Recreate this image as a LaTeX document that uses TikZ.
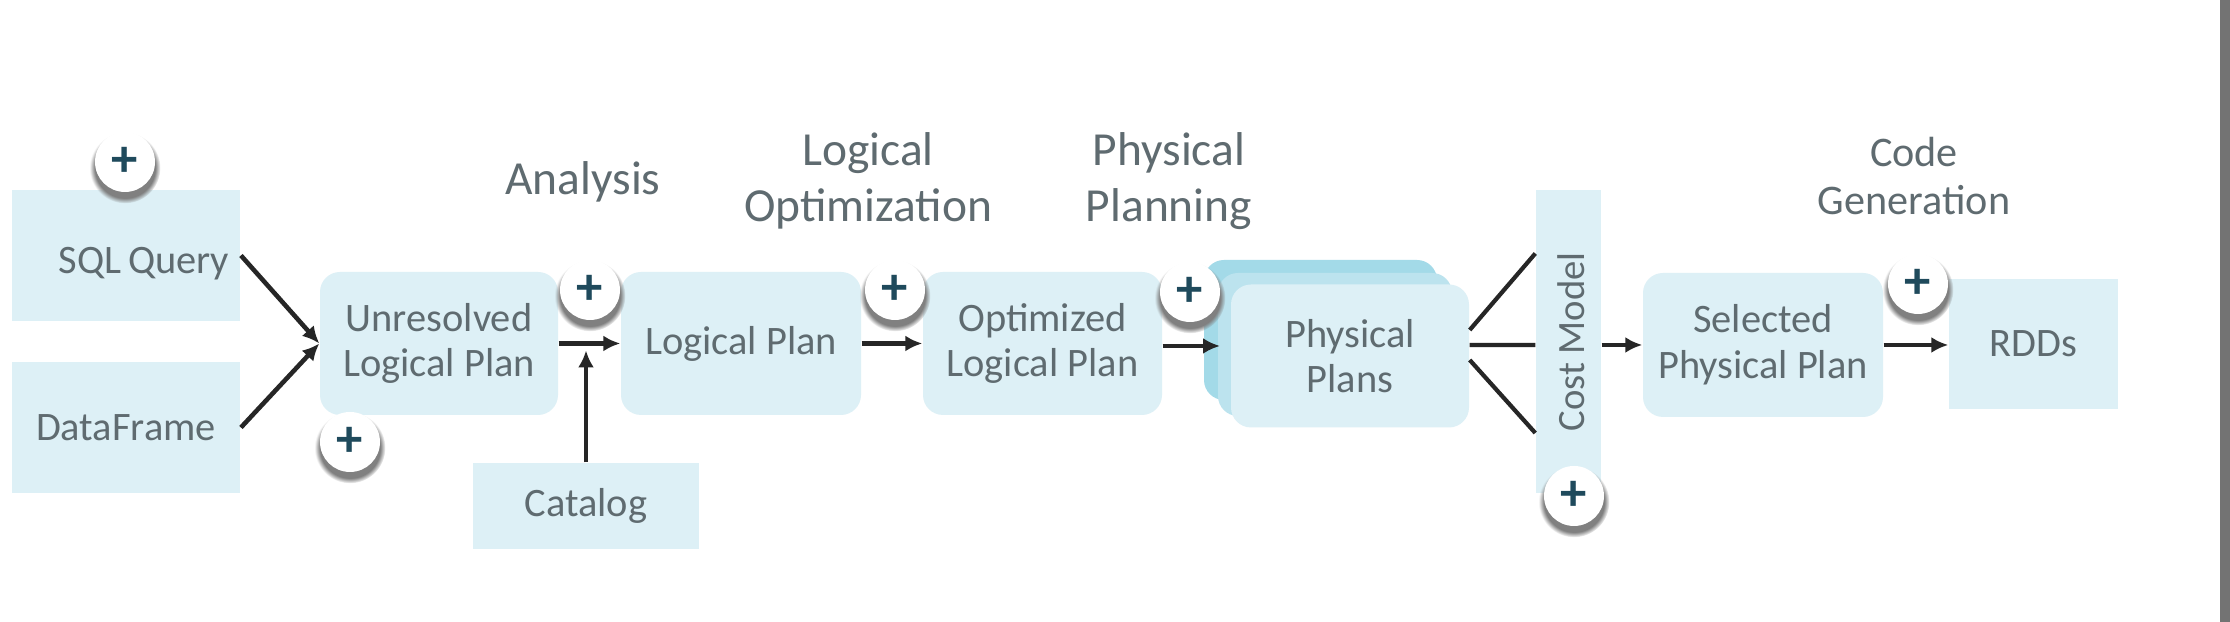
\documentclass[tikz,border=0pt]{standalone}
\usepackage{fontspec}
\setmainfont{Carlito}
\usetikzlibrary{arrows.meta, calc, shadows}
\definecolor{planfill}{HTML}{DDF0F6}
\definecolor{planmid}{HTML}{BCE3EE}
\definecolor{planback}{HTML}{A3DAE8}
\definecolor{plantext}{HTML}{5F6B70}
\definecolor{plusink}{HTML}{1F4A5C}
\definecolor{flowink}{HTML}{262626}
\tikzset{
  plainbox/.style = {fill = planfill, text = plantext, inner sep = 0pt, align = center,
    font = \fontsize{11.5pt}{13pt}\selectfont,
    execute at begin node = {\vspace*{0.12cm}}},
  planbox/.style = {plainbox, rounded corners = 0.2cm},
  phase/.style = {text = plantext, inner sep = 0pt, align = center},
  flow/.style = {draw = flowink, line width = 1.3pt, -{Latex[length = 0.17cm, width = 0.16cm]}},
  branch/.style = {draw = flowink, line width = 1.2pt},
  plus/.style = {circle, fill = white, inner sep = 0pt, minimum size = 0.6cm, text = plusink,
    font = \fontsize{15pt}{15pt}\selectfont\bfseries,
    circular drop shadow = {shadow xshift = 0pt, shadow yshift = -0.05cm, shadow scale = 1.18}}
}
\begin{document}
\begin{tikzpicture}
    \useasboundingbox (0,0) rectangle (22.30,6.22);
    \fill[white] (0,0) rectangle (22.30,6.22);
    \fill[black!55] (22.20,0) rectangle (22.30,6.22);

    % source boxes
    \node[plainbox, minimum width = 2.285cm, minimum height = 1.31cm] (sql) at (1.26,3.665){};
    \node[text = plantext, inner sep = 0pt, font = \fontsize{11.5pt}{13pt}\selectfont] (sqltext) at (1.44,3.58){SQL\,Query};
    \node[plainbox, minimum width = 2.285cm, minimum height = 1.31cm] (frame) at (1.26,1.945){DataFrame};
    \node[plainbox, minimum width = 2.26cm, minimum height = 0.86cm] (catalog) at (5.86,1.16){Catalog};

    % plans
    \node[planbox, minimum width = 2.38cm, minimum height = 1.43cm] (unres) at (4.39,2.785){Unresolved\\Logical Plan};
    \node[planbox, minimum width = 2.40cm, minimum height = 1.43cm] (logical) at (7.41,2.785){Logical Plan};
    \node[planbox, minimum width = 2.39cm, minimum height = 1.43cm] (opt) at (10.425,2.785){Optimized\\Logical Plan};
    \node[planbox, fill = planback, minimum width = 2.33cm, minimum height = 1.40cm] (back) at (13.205,2.92){};
    \node[planbox, fill = planmid, minimum width = 2.34cm, minimum height = 1.43cm] (mid) at (13.35,2.775){};
    \node[planbox, minimum width = 2.38cm, minimum height = 1.43cm,
      execute at begin node = {\vspace*{0.06cm}}] (phys) at (13.50,2.66){Physical\\Plans};
    \node[plainbox, minimum width = 0.65cm, minimum height = 3.03cm] (cost) at (15.685,2.805){};
    \node[text = plantext, inner sep = 0pt, rotate = 90, font = \fontsize{11pt}{13pt}\selectfont] (costtext) at (15.71,2.80){Cost Model};
    \node[planbox, minimum width = 2.40cm, minimum height = 1.44cm] (sel) at (17.63,2.77){Selected\\Physical Plan};
    \node[plainbox, minimum width = 1.69cm, minimum height = 1.30cm] (rdds) at (20.335,2.78){RDDs};

    % phase names
    \node[phase, font = \fontsize{13.5pt}{15pt}\selectfont] (analysis) at (5.83,4.40){Analysis};
    \node[phase, font = \fontsize{13.5pt}{16pt}\selectfont] (logopt) at (8.68,4.41){Logical\\Optimization};
    \node[phase, font = \fontsize{13.5pt}{16pt}\selectfont] (physplan) at (11.69,4.41){Physical\\Planning};
    \node[phase, font = \fontsize{12pt}{13.5pt}\selectfont] (codegen) at (19.14,4.46){Code\\Generation};

    % connectors
    \coordinate (planin) at (12.20,2.76);
    \draw[flow] (sql.east) -- (unres.west);
    \draw[flow] (frame.east) -- (unres.west);
    \draw[flow] (unres.east) -- (logical.west);
    \draw[flow] (catalog.north) -- ($(catalog.north |- unres.east) + (0,-0.07)$);
    \draw[flow] (logical.east) -- (opt.west);
    \draw[flow] (opt.east |- planin) -- (planin);
    \draw[branch] ($(phys.east) + (0,0.26)$) -- ($(cost.west) + (0,0.88)$);
    \draw[branch] ($(phys.east) + (0,0.11)$) -- ($(cost.west) + (0,-0.035)$);
    \draw[branch] ($(phys.east) + (0,-0.04)$) -- ($(cost.west) + (0,-0.915)$);
    \draw[flow] (cost.east |- sel.west) -- (sel.west);
    \draw[flow] (sel.east) -- (rdds.west |- sel.east);

    % plus markers
    \node[plus] (plusa) at (1.25,4.60){+};
    \node[plus] (plusb) at (5.90,3.32){+};
    \node[plus] (plusc) at (3.50,1.80){+};
    \node[plus] (plusd) at (8.95,3.32){+};
    \node[plus] (pluse) at (11.90,3.30){+};
    \node[plus] (plusf) at (19.18,3.38){+};
    \node[plus] (plusg) at (15.74,1.26){+};
\end{tikzpicture}
\end{document}
